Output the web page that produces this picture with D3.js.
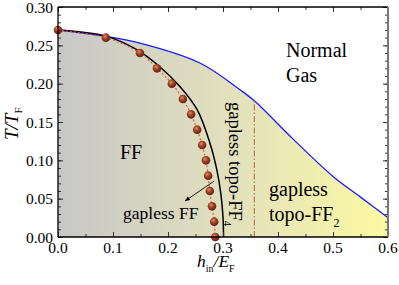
<!DOCTYPE html>
<html>
<head>
<meta charset="utf-8">
<script src="https://cdn.jsdelivr.net/npm/d3@7"></script>
<style>
  body { margin: 0; background: #fff; }
  text { font-family: "Liberation Serif", "Times New Roman", serif; fill: #000; }
</style>
</head>
<body>
<div id="container"></div>
<script>
/* DATA */
// brown dots (with red dotted line)
const dotH = [0, 0.087, 0.149, 0.180, 0.207, 0.227, 0.242, 0.253, 0.262, 0.269, 0.273, 0.276, 0.280, 0.284, 0.286];
const dotT = [0.27, 0.26, 0.24, 0.22, 0.20, 0.18, 0.16, 0.14, 0.12, 0.10, 0.08, 0.06, 0.04, 0.02, 0.00];
// black solid curve
const blackH = [0, 0.087, 0.144, 0.185, 0.222, 0.253, 0.276, 0.289, 0.296, 0.300, 0.301];
const blackT = [0.27, 0.262, 0.244, 0.222, 0.196, 0.166, 0.123, 0.087, 0.057, 0.026, 0];
// blue boundary to normal gas
const blueH = [0, 0.076, 0.149, 0.258, 0.331, 0.358, 0.427, 0.5, 0.55, 0.6];
const blueT = [0.27, 0.263, 0.253, 0.227, 0.192, 0.177, 0.128, 0.079, 0.052, 0.025];
// dash-dot vertical boundary
const vlineH = [0.357, 0.357];
const vlineT = [0, 0.178];

const xTicks = [0.0, 0.1, 0.2, 0.3, 0.4, 0.5, 0.6];
const yTicks = [0.00, 0.05, 0.10, 0.15, 0.20, 0.25, 0.30];

/* CONSTANTS */
const width = 399, height = 285;
const margin = {left: 58, right: 11, top: 7, bottom: 48};

const x = d3.scaleLinear().domain([0, 0.6]).range([margin.left, width - margin.right]);
const y = d3.scaleLinear().domain([0, 0.30]).range([height - margin.bottom, margin.top]);

const svg = d3.select("#container").append("svg")
  .attr("width", width).attr("height", height);

const defs = svg.append("defs");
const grad = defs.append("linearGradient").attr("id", "bg")
  .attr("gradientUnits", "userSpaceOnUse")
  .attr("x1", x(0)).attr("x2", x(0.6)).attr("y1", 0).attr("y2", 0);
grad.append("stop").attr("offset", "0%").attr("stop-color", "#c7c7c7");
grad.append("stop").attr("offset", "55%").attr("stop-color", "#e4e2bc");
grad.append("stop").attr("offset", "100%").attr("stop-color", "#fcf9a2");

const ball = defs.append("radialGradient").attr("id", "ball")
  .attr("cx", "40%").attr("cy", "35%").attr("r", "65%");
ball.append("stop").attr("offset", "0%").attr("stop-color", "#d89070");
ball.append("stop").attr("offset", "45%").attr("stop-color", "#a0422a");
ball.append("stop").attr("offset", "100%").attr("stop-color", "#62200f");

defs.append("marker").attr("id", "arrow")
  .attr("viewBox", "0 0 10 10").attr("refX", 9).attr("refY", 5)
  .attr("markerWidth", 6).attr("markerHeight", 6).attr("orient", "auto")
  .append("path").attr("d", "M0,1 L10,5 L0,9 Z").attr("fill", "#000");

const blue = blueH.map((h, i) => [h, blueT[i]]);

// shaded region under the blue line
const area = d3.area().x(d => x(d[0])).y0(y(0)).y1(d => y(d[1])).curve(d3.curveCatmullRom);
svg.append("path").datum(blue).attr("d", area).attr("fill", "url(#bg)");

const line = d3.line().x(d => x(d[0])).y(d => y(d[1])).curve(d3.curveCatmullRom);

svg.append("path").datum(blue).attr("d", line)
  .attr("fill", "none").attr("stroke", "#1a1aff").attr("stroke-width", 1.3);

svg.append("path").datum(vlineH.map((h, i) => [h, vlineT[i]])).attr("d", d3.line().x(d => x(d[0])).y(d => y(d[1])))
  .attr("fill", "none").attr("stroke", "#c07a52").attr("stroke-width", 1.2)
  .attr("stroke-dasharray", "6,2,1.5,2");

svg.append("path").datum(blackH.map((h, i) => [h, blackT[i]])).attr("d", line)
  .attr("fill", "none").attr("stroke", "#000").attr("stroke-width", 1.5);

const dots = dotH.map((h, i) => [h, dotT[i]]);
svg.append("path").datum(dots).attr("d", line)
  .attr("fill", "none").attr("stroke", "#e8503c").attr("stroke-width", 1.1)
  .attr("stroke-dasharray", "2,2");

svg.append("g").selectAll("circle").data(dots).join("circle")
  .attr("cx", d => x(d[0])).attr("cy", d => y(d[1])).attr("r", 4.3)
  .attr("fill", "url(#ball)");

// arrow
svg.append("line")
  .attr("x1", x(0.284)).attr("y1", y(0.073))
  .attr("x2", x(0.231)).attr("y2", y(0.047))
  .attr("stroke", "#000").attr("stroke-width", 0.9)
  .attr("marker-end", "url(#arrow)");

/* AXES */
const minorX = d3.range(0, 0.6001, 0.05);
const minorY = d3.range(0, 0.3001, 0.01);

function tickAxis(axis, scale, major, minor, tr) {
  svg.append("g").attr("transform", tr)
    .call(axis(scale).tickValues(minor).tickSize(3).tickFormat(""))
    .call(g => g.select(".domain").remove());
  svg.append("g").attr("transform", tr)
    .call(axis(scale).tickValues(major).tickSize(5).tickFormat(""))
    .call(g => g.select(".domain").remove());
}
tickAxis(d3.axisTop, x, xTicks, minorX, `translate(0,${y(0)})`);
tickAxis(d3.axisBottom, x, xTicks, minorX, `translate(0,${y(0.3)})`);
tickAxis(d3.axisRight, y, yTicks, minorY, `translate(${x(0)},0)`);
tickAxis(d3.axisLeft, y, yTicks, minorY, `translate(${x(0.6)},0)`);
svg.selectAll(".tick line").attr("stroke", "#333");

// frame
svg.append("line").attr("x1", x(0)).attr("x2", x(0.6)).attr("y1", y(0)).attr("y2", y(0)).attr("stroke", "#000").attr("stroke-width", 1.3);
svg.append("line").attr("x1", x(0)).attr("x2", x(0.6)).attr("y1", y(0.3)).attr("y2", y(0.3)).attr("stroke", "#000").attr("stroke-width", 1.3);
svg.append("line").attr("x1", x(0)).attr("x2", x(0)).attr("y1", y(0)).attr("y2", y(0.3)).attr("stroke", "#000").attr("stroke-width", 1.3);
svg.append("line").attr("x1", x(0.6)).attr("x2", x(0.6)).attr("y1", y(0)).attr("y2", y(0.3)).attr("stroke", "#777").attr("stroke-width", 2);

// tick labels
svg.append("g").selectAll("text").data(xTicks).join("text")
  .attr("x", d => x(d)).attr("y", y(0) + 16)
  .attr("text-anchor", "middle").style("font-size", "15.5px")
  .text(d3.format(".1f"));
svg.append("g").selectAll("text").data(yTicks).join("text")
  .attr("x", x(0) - 5).attr("y", d => y(d) + 5.5)
  .attr("text-anchor", "end").style("font-size", "15.5px")
  .text(d3.format(".2f"));

// axis titles
const xt = svg.append("text").attr("x", 197).attr("y", 267).style("font-size", "17.5px");
xt.append("tspan").style("font-style", "italic").text("h");
xt.append("tspan").attr("dy", 5).style("font-size", "10px").text("in");
xt.append("tspan").attr("dy", -5).style("font-style", "italic").text("/E");
xt.append("tspan").attr("dy", 5).style("font-size", "10px").text("F");

const yt = svg.append("text").attr("transform", "translate(18,140) rotate(-90)").style("font-size", "19px");
yt.append("tspan").style("font-style", "italic").text("T/T");
yt.append("tspan").attr("dy", 4).style("font-size", "11px").text("F");

// region labels
svg.append("text").attr("x", 286).attr("y", 57).style("font-size", "20px").text("Normal");
svg.append("text").attr("x", 286).attr("y", 82).style("font-size", "20px").text("Gas");
svg.append("text").attr("x", 120).attr("y", 159).style("font-size", "20px").text("FF");
svg.append("text").attr("x", 123).attr("y", 219).style("font-size", "17.5px").text("gapless FF");
svg.append("text").attr("x", 269).attr("y", 196).style("font-size", "20px").text("gapless");
const t2 = svg.append("text").attr("x", 269).attr("y", 221).style("font-size", "20px");
t2.append("tspan").text("topo-FF");
t2.append("tspan").attr("dy", 6).style("font-size", "12px").text("2");
const t4 = svg.append("text").attr("transform", "translate(229,102) rotate(90)").style("font-size", "18.5px");
t4.append("tspan").text("gapless topo-FF");
t4.append("tspan").attr("dy", 5).style("font-size", "11px").text("4");
</script>
</body>
</html>
